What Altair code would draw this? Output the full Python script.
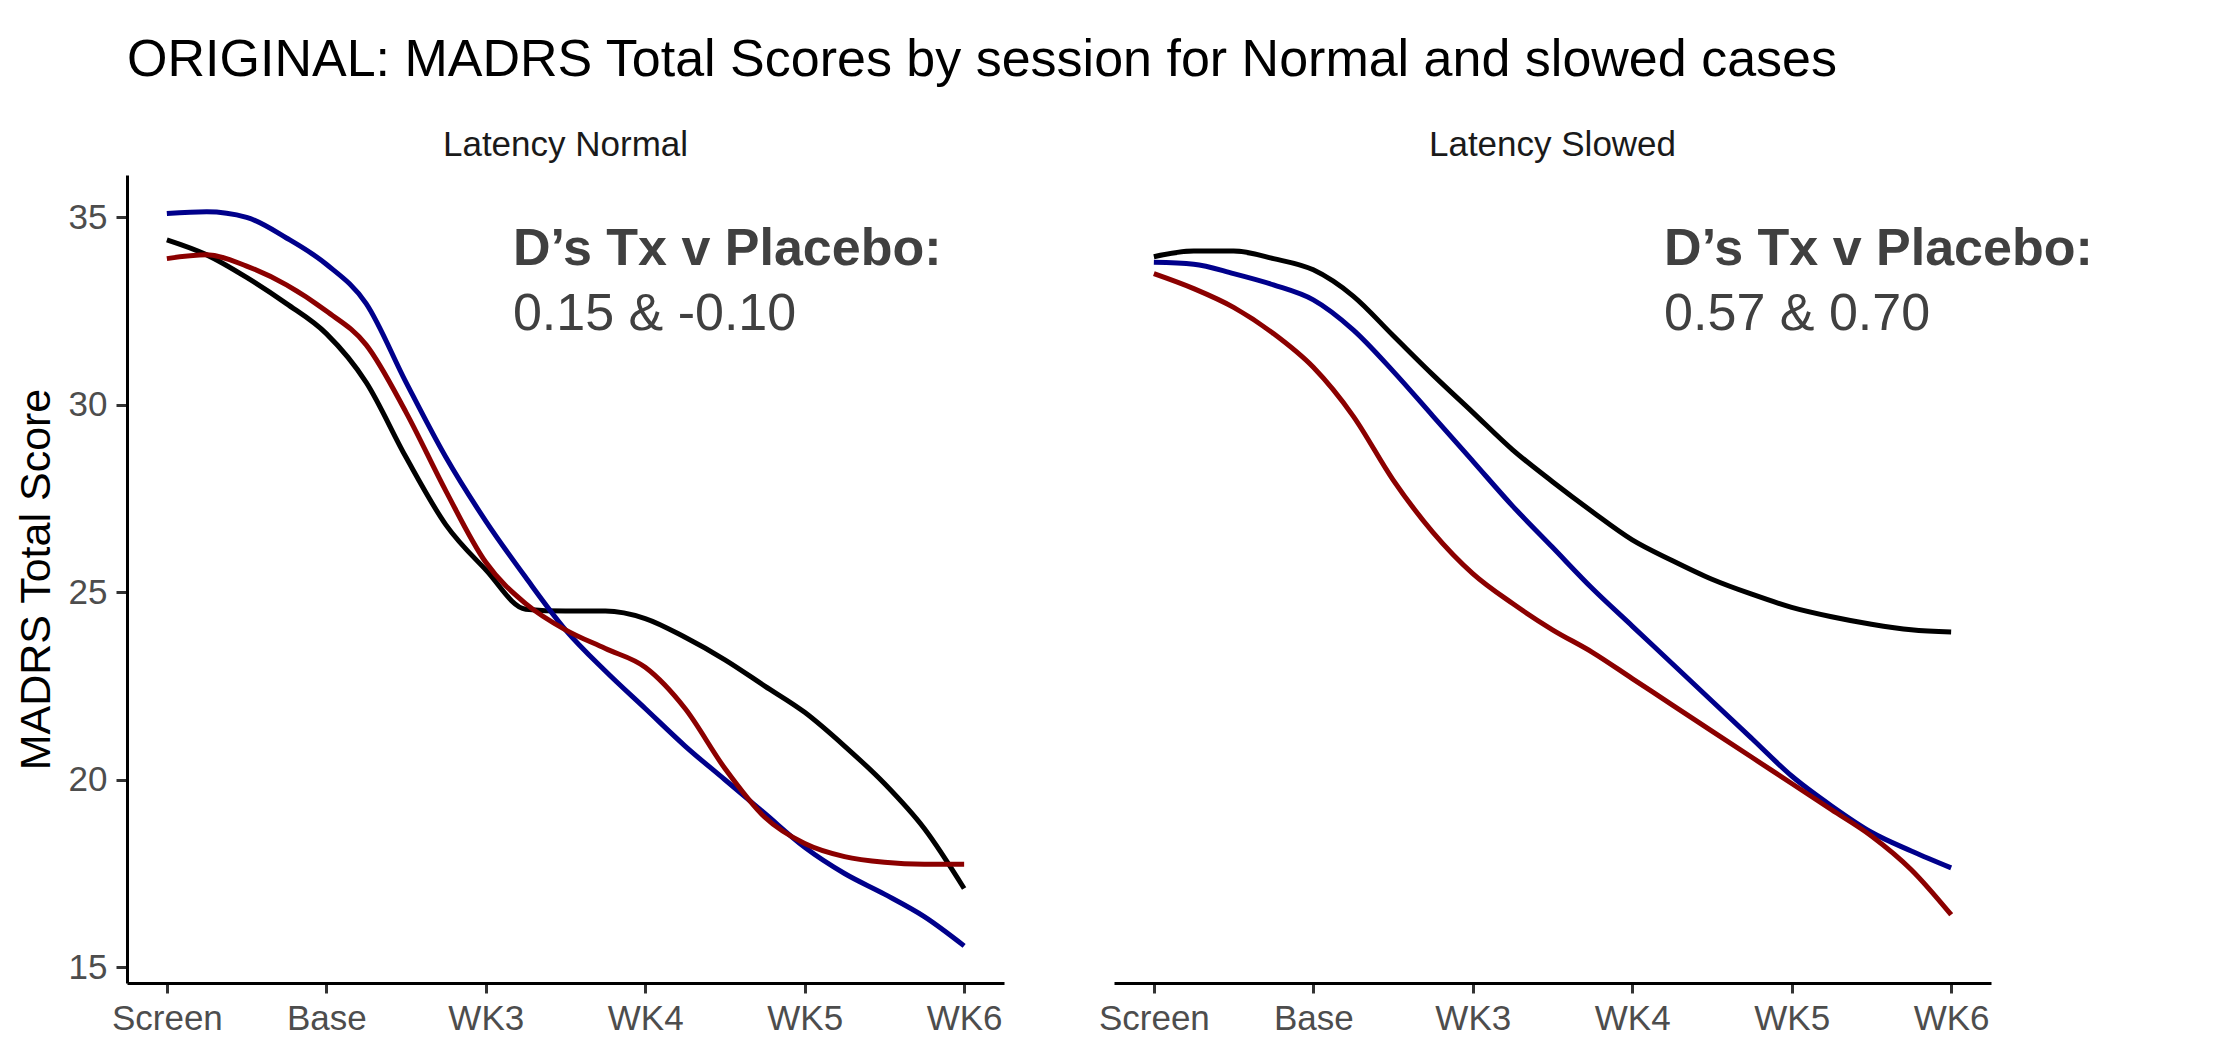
import altair as alt
import pandas as pd

# ---------------- data ----------------
session_labels = ["Screen", "Base", "WK3", "WK4", "WK5", "WK6"]
session_pos = [1, 2, 3, 4, 5, 6]

# sample points along the smoothed curves (session scale 1..6)
x_pts = [1.0, 1.25, 1.5, 1.75, 2.0, 2.25, 2.5, 2.75, 3.0, 3.25, 3.5,
         3.75, 4.0, 4.25, 4.5, 4.75, 5.0, 5.25, 5.5, 5.75, 6.0]

normal_black = [34.4, 34.0, 33.4, 32.7, 31.9, 30.6, 28.6, 26.8, 25.6, 24.55, 24.5,
                24.5, 24.3, 23.8, 23.2, 22.5, 21.8, 20.9, 19.9, 18.7, 17.1]
normal_blue = [35.1, 35.15, 35.0, 34.45, 33.75, 32.7, 30.6, 28.6, 26.9, 25.4, 24.0,
               22.9, 21.9, 20.9, 20.0, 19.1, 18.2, 17.5, 16.95, 16.35, 15.57]
normal_red = [33.9, 34.0, 33.7, 33.2, 32.5, 31.6, 29.8, 27.7, 25.8, 24.7, 24.0,
              23.5, 23.0, 21.9, 20.3, 19.0, 18.3, 17.95, 17.8, 17.75, 17.75]

slowed_black = [33.95, 34.1, 34.1, 33.9, 33.6, 32.9, 31.85, 30.8, 29.8, 28.8, 27.95,
                27.15, 26.4, 25.85, 25.35, 24.95, 24.6, 24.35, 24.15, 24.0, 23.94]
slowed_blue = [33.8, 33.75, 33.5, 33.2, 32.8, 32.0, 30.9, 29.7, 28.5, 27.3, 26.2,
               25.1, 24.1, 23.1, 22.1, 21.1, 20.1, 19.3, 18.6, 18.1, 17.65]
slowed_red = [33.5, 33.1, 32.6, 31.9, 31.0, 29.7, 28.0, 26.6, 25.5, 24.7, 24.0,
              23.4, 22.7, 22.0, 21.3, 20.6, 19.9, 19.2, 18.5, 17.6, 16.4]

groups = ["black", "blue", "red"]
group_colors = ["#000000", "#00008B", "#8B0000"]

panel_titles = ["Latency Normal", "Latency Slowed"]
annot_head = ["D\u2019s Tx v Placebo:", "D\u2019s Tx v Placebo:"]
annot_vals = ["0.15 & -0.10", "0.57 & 0.70"]
annot_x = [3.17, 4.20]
annot_y_head = [33.73, 33.73]
annot_y_vals = [32.0, 32.0]

y_domain = [14.58, 36.13]
x_domain = [0.75, 6.25]

FONT = "Liberation Sans"
label_expr = "[" + ",".join("'%s'" % s for s in session_labels) + "][datum.value - 1]"


def make_df(series):
    rows = []
    for g, vals in zip(groups, series):
        for x, y in zip(x_pts, vals):
            rows.append({"group": g, "x": x, "y": y})
    return pd.DataFrame(rows)


def panel(series, idx, show_y):
    df = make_df(series)
    x_enc = alt.X("x:Q", scale=alt.Scale(domain=x_domain, nice=False, zero=False),
                  axis=alt.Axis(values=session_pos, labelExpr=label_expr, title=None,
                                tickSize=10, labelPadding=8))
    if show_y:
        y_axis = alt.Axis(values=[15, 20, 25, 30, 35], title="MADRS Total Score",
                          titleFontSize=43, titleFont=FONT, titleFontWeight="normal",
                          titleColor="#000000", titlePadding=10, labelPadding=9)
    else:
        y_axis = None
    y_enc = alt.Y("y:Q", scale=alt.Scale(domain=y_domain, nice=False, zero=False), axis=y_axis)

    lines = alt.Chart(df).mark_line(strokeWidth=5, interpolate="monotone").encode(
        x=x_enc, y=y_enc,
        color=alt.Color("group:N", scale=alt.Scale(domain=groups, range=group_colors), legend=None),
        detail="group:N",
    )
    ann = pd.DataFrame({"x": [annot_x[idx]], "yh": [annot_y_head[idx]], "yv": [annot_y_vals[idx]],
                        "head": [annot_head[idx]], "val": [annot_vals[idx]]})
    head = alt.Chart(ann).mark_text(align="left", baseline="alphabetic", fontSize=52, font=FONT,
                                    fontWeight="bold", color="#404040").encode(
        x="x:Q", y="yh:Q", text="head:N")
    val = alt.Chart(ann).mark_text(align="left", baseline="alphabetic", fontSize=52, font=FONT,
                                   fontWeight="normal", color="#404040").encode(
        x="x:Q", y="yv:Q", text="val:N")
    return alt.layer(lines, head, val).properties(
        width=877, height=808,
        title=alt.TitleParams(panel_titles[idx], fontSize=35, font=FONT, fontWeight="normal",
                              color="#1A1A1A", anchor="middle", offset=12),
    )


left = panel([normal_black, normal_blue, normal_red], 0, True)
right = panel([slowed_black, slowed_blue, slowed_red], 1, False)

chart = alt.hconcat(left, right, spacing=94).properties(
    title=alt.TitleParams("ORIGINAL: MADRS Total Scores by session for Normal and slowed cases",
                          fontSize=52, font=FONT, fontWeight="normal", color="#000000",
                          anchor="start", offset=41, dx=112),
    padding={"left": 7, "top": 26, "right": 5, "bottom": 5},
).configure_view(stroke=None).configure_axis(
    domainColor="#000000", domainWidth=3, tickColor="#333333", tickWidth=3, tickSize=11,
    labelFontSize=35, labelColor="#4D4D4D", labelFont=FONT, grid=False,
)

chart.save("out.html", embed_options={"renderer": "svg", "actions": False})
